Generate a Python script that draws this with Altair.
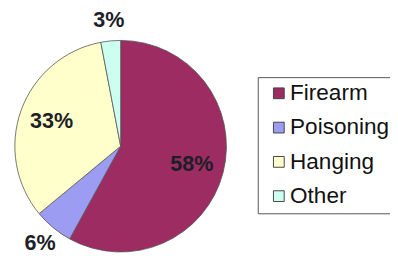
import altair as alt
import pandas as pd
import math

categories = ["Firearm", "Poisoning", "Hanging", "Other"]
values = [58, 6, 33, 3]
labels = ["58%", "6%", "33%", "3%"]
colors = ["#9C2C62", "#9C9CF2", "#FFFFCC", "#CCFFF0"]

df = pd.DataFrame({"cat": categories, "val": values, "lab": labels,
                   "order": list(range(len(categories)))})
total = sum(values)

cx, cy, r = 115, 138.5, 108

pie = alt.Chart(df).mark_arc(stroke="#555555", strokeWidth=0.8).encode(
    theta=alt.Theta("val:Q", stack=True),
    order=alt.Order("order:Q"),
    x=alt.value(cx), y=alt.value(cy),
    radius=alt.value(r),
    color=alt.Color(
        "cat:N",
        scale=alt.Scale(domain=categories, range=colors),
        sort=categories,
        legend=alt.Legend(
            title=None, orient="none", legendX=255, legendY=68,
            symbolType="square", symbolSize=121, symbolStrokeColor="#444444",
            symbolStrokeWidth=1, labelFont="Liberation Sans", labelFontSize=23,
            labelColor="#111111", rowPadding=11, padding=5,
            strokeColor="#555555", fillColor="white", labelOffset=0,
            symbolOffset=5, labelLimit=200,
        ),
    ),
)

lab_base = alt.Chart(df).transform_window(
    cum="sum(val)", sort=[alt.SortField("order")]
).transform_calculate(
    mid="datum.cum - datum.val / 2"
)

def label_layer(test, rad):
    return lab_base.transform_filter(test).mark_text(
        font="Liberation Sans", fontSize=22, fontWeight="bold", color="#1E1E28"
    ).encode(
        theta=alt.Theta("mid:Q", stack=None,
                        scale=alt.Scale(domain=[0, total], range=[0, 2 * math.pi])),
        x=alt.value(cx), y=alt.value(cy),
        radius=alt.value(rad),
        text="lab:N",
    )

inner = label_layer(alt.datum.val >= 10, 75)
outer = label_layer(alt.datum.val < 10, 129)

chart = alt.layer(pie, inner, outer).properties(
    width=390, height=248,
    autosize=alt.AutoSizeParams(type="none"),
    padding=0,
).resolve_scale(theta="independent").configure_view(stroke=None)

chart.save("out.html", embed_options={"renderer": "svg", "actions": False})
